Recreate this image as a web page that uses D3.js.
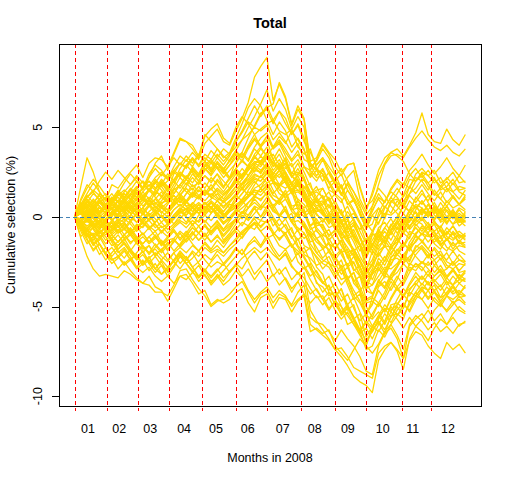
<!DOCTYPE html>
<html>
<head>
<meta charset="utf-8">
<script src="https://cdn.jsdelivr.net/npm/d3@7"></script>
<style>
  html, body { margin: 0; padding: 0; background: #fff; overflow: hidden; }
  svg { display: block; background: #fff; }
</style>
</head>
<body>
<div id="content"></div>
<script>
// trading days in 2008, one value every 4th day (day 1 .. 253)
const dayStep = 4;
const lastDay = 253;
const monthStarts = [1, 22, 42, 62, 83, 105, 125, 147, 169, 189, 212, 231];
const monthLabels = ["01", "02", "03", "04", "05", "06", "07", "08", "09", "10", "11", "12"];
const monthLabelDays = [9.6, 29.8, 49.7, 71.6, 92.2, 112.6, 135.2, 155.8, 177.2, 199.7, 219, 241.8];
const yTicks = [-10, -5, 0, 5];

// cumulative selection (%) paths
const p01 = [0,0.6,1.2,0.8,0.3,0.5,1.1,0.9, 1.4,1.8,2.2,1.6,2.4,2.9,2.6,2.1, 2.8,3.4,3.1,3.6,3.2,4.1,4.5,4.9, 4.2,4.0,4.8,5.5,6.4,7.8,8.4,8.9, 6.5,7.4,6.6,5.1,6.0,5.4,3.0,2.6, 3.2,2.4,1.8,1.2,1.9,1.4,0.6,-0.4, 0.3,1.1,0.8,1.6,2.1,1.8,2.6,3.0, 3.5,2.9,2.4,2.8,3.3,2.7,2.3,2.9];
const p02 = [0,1.7,3.3,2.5,1.4,0.9,1.8,1.6, 2.1,2.5,2.9,2.2,3.0,3.3,3.2,2.8, 3.6,4.4,4.2,4.0,3.4,4.6,4.2,3.8, 3.3,3.6,4.4,5.2,6.1,6.6,6.2,5.4, 4.6,5.3,4.8,3.9,4.4,3.8,2.6,3.2, 4.0,3.5,2.8,2.3,2.9,3.0,1.6,0.5, 1.2,2.3,3.0,3.6,3.4,3.1,2.4,2.0, 2.3,1.7,1.2,1.6,2.0,1.4,1.0,1.5];
const p03 = [0,0.4,0.2,-0.3,-0.6,-0.2,0.3,0.1, 0.6,0.2,0.8,1.1,0.7,1.4,1.2,0.9, 1.6,2.2,1.8,2.4,2.0,2.7,2.4,3.0, 2.6,2.2,3.1,3.6,4.4,5.1,5.8,6.0, 5.2,5.9,5.5,4.6,5.2,4.4,2.8,3.1, 3.8,3.3,2.4,1.6,2.2,2.6,1.0,0.3, 1.4,2.6,3.3,3.6,3.8,3.4,4.0,4.7, 5.8,4.6,4.2,4.1,4.9,4.3,4.0,4.6];
const p04 = [0,-0.5,-0.2,0.4,0.1,-0.3,0.2,0.6, 0.3,0.9,1.4,1.0,1.6,1.3,1.9,1.5, 2.4,3.0,2.7,3.3,2.9,3.5,3.2,3.8, 3.4,3.1,3.7,4.3,5.0,5.6,6.3,7.1, 5.9,6.6,6.0,4.9,5.6,5.0,2.4,2.0, 2.6,1.9,1.2,0.8,1.5,1.0,0.1,-0.6, 0.6,1.8,2.9,3.4,3.5,3.3,3.9,4.4, 4.8,4.3,3.9,3.7,4.0,3.6,3.4,3.8];
const p05 = [0,0.8,0.4,1.0,0.6,0.2,0.9,1.3, 1.9,2.4,2.0,1.5,2.2,3.0,3.4,2.6, 3.5,4.3,4.2,3.8,3.3,4.5,4.9,5.2, 4.4,4.1,5.0,5.6,5.2,4.6,3.9,4.3, 3.2,3.8,3.1,2.4,3.0,2.2,0.8,1.1, 1.6,0.9,0.2,-0.4,0.3,-0.2,-1.1,-1.8, -1.0,0.2,0.9,1.4,1.1,0.6,1.3,2.0, 2.4,1.9,1.3,1.0,1.6,1.1,0.7,1.2];
const p06 = [0,-0.3,0.5,0.2,-0.4,0.1,0.7,0.4, 0.9,1.3,1.7,1.1,1.5,2.0,1.7,1.2, 1.8,2.5,2.1,2.8,2.4,3.1,2.7,3.3, 2.9,3.4,4.2,4.8,5.5,6.2,5.6,6.1, 6.3,7.5,6.7,5.2,6.2,5.5,3.1,3.3, 4.1,3.6,3.2,2.5,2.9,3.0,1.7,0.6, 0.9,1.6,1.2,0.6,0.2,-0.3,0.4,1.0, 1.5,0.8,0.3,0.0,0.6,0.1,-0.3,0.2];
const p07 = [0,-0.8,-1.5,-1.1,-1.8,-2.4,-2.0,-1.6, -1.2,-1.8,-2.3,-1.9,-2.6,-3.1,-2.7,-3.3, -2.8,-2.2,-2.6,-3.0,-3.6,-3.2,-3.8,-3.4, -3.0,-2.6,-2.2,-1.8,-2.5,-3.2,-2.8,-2.4, -3.3,-2.9,-3.5,-4.2,-3.6,-3.1,-5.2,-5.8, -6.3,-6.8,-7.4,-7.8,-8.3,-8.9,-9.2,-9.4, -9.8,-8.0,-7.4,-7.0,-7.5,-8.5,-6.8,-6.1, -6.4,-6.9,-6.2,-5.7,-6.0,-5.4,-5.0,-5.3];
const p08 = [0,-0.4,-1.0,-1.6,-1.2,-0.8,-1.4,-2.0, -1.7,-2.2,-2.8,-2.4,-3.0,-2.6,-3.2,-2.9, -2.4,-1.9,-2.3,-2.8,-3.4,-3.0,-3.6,-3.3, -3.8,-3.5,-3.0,-3.4,-4.1,-4.6,-4.2,-3.9, -4.5,-4.1,-4.4,-5.0,-4.6,-4.3,-6.0,-6.3, -6.6,-6.9,-7.4,-7.3,-7.8,-8.4,-8.6,-8.8, -9.0,-7.6,-7.2,-7.0,-7.4,-7.9,-6.9,-6.4, -6.6,-7.2,-7.6,-7.9,-7.0,-7.4,-7.1,-7.6];
const p09 = [0,-1.1,-0.7,-1.4,-2.1,-1.7,-2.3,-2.9, -2.5,-3.0,-3.4,-3.7,-3.3,-3.9,-4.1,-4.7, -4.0,-3.3,-3.2,-3.7,-4.3,-4.1,-4.9,-4.6, -4.8,-4.6,-4.2,-4.0,-4.8,-5.3,-4.5,-4.3, -5.1,-4.5,-4.6,-5.3,-4.7,-4.4,-6.4,-6.2, -6.5,-6.3,-7.2,-7.6,-8.0,-7.4,-6.8,-7.2, -7.6,-7.1,-6.4,-6.0,-6.6,-7.4,-6.0,-5.5, -5.8,-6.3,-5.9,-6.4,-6.1,-6.5,-6.0,-5.9];
const p10 = [0,-1.2,-2.2,-2.9,-3.3,-3.2,-3.3,-3.4, -3.0,-3.2,-3.5,-3.7,-3.8,-4.2,-4.2,-4.4, -3.8,-3.0,-2.9,-3.5,-4.0,-4.4,-5.0,-4.7, -4.6,-4.3,-3.9,-3.6,-4.2,-4.8,-4.3,-4.1, -4.8,-4.3,-4.5,-4.9,-4.2,-3.8,-5.6,-5.9, -6.0,-6.4,-6.9,-6.3,-6.8,-7.2,-7.8,-8.6, -8.8,-7.2,-6.5,-6.2,-6.8,-7.9,-6.1,-5.7, -5.4,-5.9,-5.2,-4.8,-5.3,-4.9,-4.4,-4.8];
const q01 = [0,0.3,0.1,0.6,0.9,0.4,0.2,0.5, 0.3,0.0,-0.3,0.2,0.6,0.8,0.5,0.4, 0.9,1.1,0.6,0.7,1.2,1.5,1.1,0.9, 1.2,1.6,2.1,1.8,2.3,2.9,2.6,3.0, 2.2,2.6,2.1,1.5,2.0,1.1,0.9,0.5, 0.7,1.0,0.3,-0.3,-0.1,-1.2,-1.6,-2.3, -1.5,-1.1,-1.7,-0.7,-0.6,-0.9,0.1,0.6, 0.2,0.7,0.1,-0.2,0.4,0.0,0.2,-0.1];
const q02 = [0,-0.3,-0.9,-1.3,-0.8,-1.1,-1.6,-1.4, -1.0,-0.7,-1.2,-1.5,-1.1,-0.8,-1.4,-1.9, -1.3,-1.6,-1.0,-0.6,-0.9,-1.3,-0.8,-0.5, -1.3,-0.9,-0.4,0.1,-0.2,0.2,0.6,0.5, 0.7,0.1,-0.1,0.2,-0.8,-1.2,-0.9,-2.0, -2.4,-2.6,-3.2,-2.7,-3.6,-4.4,-4.1,-5.4, -4.9,-3.9,-3.6,-4.1,-3.5,-2.6,-3.0,-2.6, -2.8,-3.3,-2.7,-3.1,-3.4,-2.9,-3.4,-3.6];
const q03 = [0,0.5,1.1,1.4,0.9,0.6,0.8,1.2, 1.3,1.0,1.5,1.2,0.7,1.0,1.4,0.9, 1.3,1.8,2.1,1.7,1.9,2.3,2.0,2.4, 1.7,2.1,2.5,2.2,2.8,3.3,3.1,3.6, 3.0,2.8,3.3,2.4,2.5,2.2,1.3,1.5, 1.6,0.9,1.3,1.0,0.0,0.2,-0.4,-1.4, -0.8,-0.3,0.2,0.1,0.4,0.9,1.3,1.6, 2.1,1.9,2.2,1.5,1.7,2.1,1.5,1.6];
const q04 = [0,0.3,0.1,-0.4,-0.7,-0.2,-0.5,-0.1, -0.3,-0.8,-0.6,-0.2,0.2,-0.1,-0.6,-0.4, -0.1,0.3,0.0,-0.4,-0.2,0.3,0.6,0.2, -0.3,0.0,0.4,0.2,0.8,1.2,0.9,1.4, 1.0,0.7,1.0,0.3,0.0,-0.3,-0.9,-1.4, -1.7,-2.6,-2.8,-2.4,-3.4,-3.1,-3.9,-4.7, -4.5,-3.6,-4.0,-3.3,-2.8,-2.2,-2.5,-1.7, -1.4,-1.8,-2.2,-1.9,-2.5,-2.7,-2.4,-2.5];
const q05 = [0,-0.6,-1.1,-0.9,-1.5,-2.0,-1.7,-2.2, -1.8,-2.4,-2.1,-2.6,-2.2,-2.9,-3.2,-2.8, -2.5,-2.1,-2.6,-2.3,-1.9,-2.4,-2.8,-2.5, -2.7,-2.3,-1.8,-2.1,-1.6,-1.3,-1.7,-1.2, -1.0,-1.6,-1.8,-1.5,-2.5,-2.9,-2.6,-3.7, -3.9,-4.4,-4.2,-5.0,-5.5,-6.0,-6.6,-7.2, -6.1,-6.4,-5.8,-5.0,-5.5,-5.1,-4.2,-4.4, -3.9,-4.1,-3.8,-4.5,-4.3,-3.9,-4.5,-4.4];
const q06 = [0,0.4,0.8,1.3,1.0,0.6,0.9,0.5, 0.9,1.3,1.1,1.7,2.0,1.6,1.9,1.4, 2.0,2.4,2.1,2.6,2.3,2.8,3.1,2.7, 2.5,2.9,3.3,3.6,3.2,3.9,4.4,4.7, 3.9,4.3,3.8,3.2,3.7,2.8,2.6,2.2, 2.3,1.6,2.0,1.7,0.7,0.9,0.3,-0.7, 0.1,0.5,-0.1,0.9,1.0,0.7,1.7,2.2, 2.0,1.5,2.1,1.7,1.4,1.9,1.4,1.2];
const q07 = [0,-0.4,-0.7,-0.3,0.1,-0.2,0.3,0.0, 0.1,0.5,0.2,-0.3,-0.6,-0.4,-0.9,-0.5, -0.1,0.2,0.5,0.1,0.4,0.8,0.5,0.2, 0.3,0.7,0.6,1.0,1.4,1.2,1.6,1.9, 2.1,1.5,1.3,1.6,0.6,0.2,0.5,-0.6, -1.0,-1.2,-1.8,-1.3,-2.2,-3.0,-2.7,-4.0, -3.8,-2.9,-3.3,-2.6,-2.1,-1.5,-1.8,-1.0, -1.4,-0.9,-1.5,-1.8,-1.2,-1.6,-1.4,-1.7];
const q08 = [0,0.3,0.0,-0.4,-0.9,-0.6,-1.0,-0.7, -1.2,-0.9,-0.4,-0.6,-0.1,0.3,0.0,-0.4, 0.1,0.4,0.8,0.5,0.2,0.6,0.3,0.4, 0.0,0.4,0.9,1.3,1.8,2.2,2.0,2.5, 1.9,1.7,2.2,1.3,1.4,1.1,0.2,0.4, 0.2,-0.3,-0.1,-0.9,-1.4,-1.9,-2.5,-3.1, -2.6,-1.6,-1.3,-1.8,-1.2,-0.3,-0.7,-0.3, 0.0,-0.4,-0.8,-0.5,-1.1,-1.3,-1.0,-1.1];
const q09 = [0,-0.5,-0.9,-1.5,-1.3,-0.8,-1.2,-1.8, -1.5,-2.0,-2.4,-2.1,-2.6,-2.2,-2.7,-3.0, -2.4,-2.0,-2.3,-2.8,-2.5,-2.1,-2.4,-1.9, -2.2,-1.8,-1.5,-1.1,-0.7,-0.4,-0.8,-0.5, -0.9,-1.2,-0.9,-1.6,-1.9,-2.2,-2.8,-3.3, -3.7,-3.9,-4.5,-4.0,-4.9,-5.7,-5.4,-6.7, -6.1,-5.6,-5.1,-5.2,-4.9,-4.4,-4.0,-3.7, -4.1,-3.6,-4.2,-4.5,-3.9,-4.3,-4.1,-4.4];
const q10 = [0,0.6,1.1,1.5,1.2,0.7,0.4,0.9, 0.8,1.2,0.9,1.4,1.8,1.5,2.0,1.6, 2.1,2.5,2.2,2.7,2.3,2.9,3.2,2.8, 2.7,3.1,3.6,3.3,4.0,4.6,4.9,5.2, 5.4,4.8,4.6,4.9,3.9,3.5,3.8,2.7, 2.4,1.5,1.3,1.7,0.7,1.0,0.2,-0.6, -0.4,0.5,0.1,0.8,1.3,1.9,1.6,2.4, 2.7,2.3,1.9,2.2,1.6,1.4,1.7,1.6];
const q11 = [0,0.3,-0.1,-0.5,-0.2,-0.7,-0.3,-0.9, -0.7,-0.3,0.2,0.5,0.1,0.4,0.8,0.9, 1.2,0.8,1.3,1.6,1.2,0.9,1.3,1.0, 0.9,1.3,1.7,1.5,2.0,2.4,2.2,2.8, 2.0,2.4,1.9,1.3,1.8,0.9,0.7,0.3, 0.4,-0.3,0.1,-0.2,-1.2,-1.0,-1.6,-2.6, -2.7,-3.0,-2.4,-1.6,-2.1,-1.7,-0.8,-1.0, -0.5,-0.7,-0.4,-1.1,-0.9,-0.5,-1.1,-1.0];
const q12 = [0,0.3,0.0,-0.5,-0.9,-0.6,-0.2,-0.5, -0.3,-0.8,-1.2,-0.9,-1.4,-1.1,-1.6,-1.3, -1.2,-0.8,-1.1,-0.6,-0.9,-0.5,-0.8,-0.4, -0.8,-0.5,-0.1,0.3,0.1,0.6,0.4,0.9, 0.3,0.1,0.6,-0.3,-0.2,-0.5,-1.4,-1.2, -1.0,-0.7,-1.4,-2.0,-1.8,-2.9,-3.3,-4.0, -3.2,-2.8,-3.4,-2.4,-2.3,-2.6,-1.6,-1.1, -1.3,-1.8,-1.2,-1.6,-1.9,-1.4,-1.9,-2.1];
const q13 = [0,0.5,0.9,0.6,0.2,0.5,0.1,0.4, 0.8,0.6,0.2,0.5,0.9,0.7,1.1,0.8, 1.0,1.3,0.9,1.4,1.1,0.7,1.0,1.3, 0.8,1.1,1.5,1.9,2.3,2.7,2.5,2.9, 2.5,2.2,2.5,1.8,1.5,1.2,0.6,0.1, -0.1,-0.6,-0.4,-1.2,-1.7,-2.2,-2.8,-3.4, -3.2,-2.3,-2.7,-2.0,-1.5,-0.9,-1.2,-0.4, -0.8,-0.3,-0.9,-1.2,-0.6,-1.0,-0.8,-1.1];
const q14 = [0,-0.4,-0.8,-0.6,-1.1,-0.8,-1.3,-1.6, -1.3,-1.0,-1.5,-1.8,-1.6,-2.1,-1.8,-1.5, -1.3,-1.6,-1.2,-0.9,-1.3,-1.0,-1.4,-1.1, -1.4,-1.0,-0.7,-0.3,-0.5,0.0,-0.2,0.3, -0.5,-0.1,-0.6,-1.2,-0.7,-1.6,-1.8,-2.2, -2.6,-2.8,-3.4,-2.9,-3.8,-4.6,-4.3,-5.6, -4.5,-4.8,-4.2,-3.4,-3.9,-3.5,-2.6,-2.8, -2.5,-2.9,-3.3,-3.0,-3.6,-3.8,-3.5,-3.6];
const q15 = [0,0.6,0.3,0.1,0.5,0.2,-0.2,0.2, 0.6,0.9,0.6,1.0,0.7,0.3,0.6,0.2, 0.6,1.0,0.8,1.2,1.0,1.4,1.1,1.5, 1.2,1.5,1.9,2.3,2.6,3.0,2.8,3.3, 3.5,2.9,2.7,3.0,2.0,1.6,1.9,0.8, 0.9,0.2,0.6,0.3,-0.7,-0.5,-1.1,-2.1, -1.6,-0.6,-0.3,-0.8,-0.2,0.7,0.3,0.7, 0.5,0.0,0.6,0.2,-0.1,0.4,-0.1,-0.3];
const q16 = [0,-0.4,-0.2,0.2,-0.1,-0.5,-0.8,-0.4, -0.1,-0.4,-0.8,-0.5,-0.1,0.3,0.0,-0.3, 0.0,0.3,0.1,0.5,0.2,0.5,0.8,0.4, 0.1,0.4,0.7,0.9,1.2,1.5,1.4,1.8, 1.2,1.0,1.5,0.6,0.7,0.4,-0.5,-0.3, -0.6,-1.5,-1.7,-1.3,-2.3,-2.0,-2.8,-3.6, -3.8,-3.3,-2.8,-2.9,-2.6,-2.1,-1.7,-1.4, -0.9,-1.1,-0.8,-1.5,-1.3,-0.9,-1.5,-1.4];
const q17 = [0,0.3,0.7,0.4,0.0,0.3,0.8,1.1, 0.7,1.0,0.7,1.2,1.5,1.1,0.7,0.4, 0.8,1.1,0.9,1.3,1.1,1.5,1.2,1.6, 1.3,1.6,2.0,2.4,2.7,3.1,3.0,3.4, 3.0,2.7,3.0,2.3,2.0,1.7,1.1,0.6, 0.8,1.1,0.4,-0.2,0.0,-1.1,-1.5,-2.2, -1.0,-0.9,0.0,0.9,0.6,1.2,2.1,2.0, 2.5,2.3,2.6,1.9,2.1,2.5,1.9,2.0];
const q18 = [0,-0.7,-1.3,-1.8,-1.5,-2.1,-2.4,-2.2, -2.7,-2.4,-2.9,-2.6,-2.3,-2.0,-2.4,-2.8, -2.4,-2.1,-2.4,-1.9,-2.2,-1.7,-2.0,-1.8, -2.0,-1.6,-1.3,-0.9,-0.6,-0.3,-0.5,-0.2, -1.0,-0.6,-1.1,-1.7,-1.2,-2.1,-2.3,-2.7, -2.5,-2.2,-2.9,-3.5,-3.3,-4.4,-4.8,-5.5, -5.7,-5.3,-5.9,-4.9,-4.8,-5.1,-4.1,-3.6, -3.3,-3.7,-4.1,-3.8,-4.4,-4.6,-4.3,-4.4];
const q19 = [0,0.2,0.6,0.9,0.6,0.2,-0.2,0.1, 0.5,0.2,-0.3,-0.1,-0.5,-0.8,-0.5,-0.9, -0.5,-0.2,-0.4,0.0,-0.3,0.1,-0.2,0.2, -0.1,0.3,0.5,0.8,1.1,1.4,1.2,1.6, 1.0,0.8,1.3,0.4,0.5,0.2,-0.7,-0.5, -0.4,-1.1,-0.7,-1.0,-2.0,-1.8,-2.4,-3.4, -2.9,-1.9,-1.6,-2.1,-1.5,-0.6,-1.0,-0.6, -1.0,-0.5,-1.1,-1.4,-0.8,-1.2,-1.0,-1.3];
const q20 = [0,-0.3,-0.7,-1.0,-0.7,-0.3,-0.6,-0.2, 0.1,-0.2,0.2,-0.1,0.3,0.6,0.3,0.0, 0.4,0.7,0.4,0.8,0.5,0.8,0.5,0.9, 0.5,0.9,1.3,1.8,2.1,2.6,2.5,3.0, 2.2,2.6,2.1,1.5,2.0,1.1,0.9,0.5, 0.3,-0.2,0.0,-0.8,-1.3,-1.8,-2.4,-3.0, -1.9,-2.2,-1.6,-0.8,-1.3,-0.9,0.0,-0.2, -0.4,-0.9,-0.3,-0.7,-1.0,-0.5,-1.0,-1.2];
const q21 = [0,-0.3,-0.7,-1.1,-0.8,-1.3,-1.0,-1.4, -1.0,-1.4,-1.2,-1.7,-2.0,-1.8,-2.2,-2.5, -2.0,-1.7,-2.0,-1.6,-1.9,-1.5,-1.9,-1.6, -2.0,-1.6,-1.2,-0.8,-0.5,-0.7,-0.2,-0.3, -0.1,-0.7,-0.9,-0.6,-1.6,-2.0,-1.7,-2.8, -3.2,-4.2,-4.4,-4.0,-5.2,-4.9,-6.0,-7.1, -6.3,-5.9,-6.5,-5.5,-5.4,-5.7,-4.7,-4.2, -4.6,-4.1,-4.7,-5.0,-4.4,-4.8,-4.6,-4.9];
const q22 = [0,0.4,0.1,0.4,0.8,0.5,0.8,0.4, -0.2,0.1,0.5,0.3,0.7,0.4,0.0,0.3, 0.9,0.6,0.9,0.5,0.8,0.5,0.9,0.6, 0.1,0.5,0.9,1.3,1.7,2.1,2.0,2.4, 2.0,1.7,2.0,1.3,1.0,0.7,0.1,-0.4, -0.2,0.1,-0.6,-1.2,-1.0,-2.1,-2.5,-3.2, -2.6,-2.1,-1.6,-1.7,-1.4,-0.9,-0.5,-0.2, 0.3,0.1,0.4,-0.3,-0.1,0.3,-0.3,-0.2];
const q23 = [0,-0.4,-0.1,-0.5,-0.2,0.2,-0.1,-0.6, -0.3,0.1,0.5,0.2,-0.2,0.1,0.5,0.2, 0.7,0.9,0.6,0.3,0.7,0.4,0.8,0.5, 0.0,0.3,0.6,0.9,1.2,1.5,1.4,1.7, 1.9,1.3,1.1,1.4,0.4,0.0,0.3,-0.8, -1.1,-2.0,-2.2,-1.8,-2.8,-2.5,-3.3,-4.1, -4.3,-3.8,-3.3,-3.4,-3.1,-2.6,-2.2,-1.9, -1.6,-2.0,-2.4,-2.1,-2.7,-2.9,-2.6,-2.7];
const q24 = [0,0.4,0.8,0.6,1.0,1.3,0.9,0.6, 1.0,0.7,0.3,0.5,0.1,-0.3,0.1,-0.3, 0.1,0.5,0.3,0.7,0.4,0.8,0.5,0.9, 0.6,0.9,1.2,1.6,1.9,2.3,2.2,2.6, 2.0,1.8,2.3,1.4,1.5,1.2,0.3,0.5, 0.1,-0.1,-0.7,-0.2,-1.1,-1.9,-1.6,-2.9, -2.4,-1.4,-1.1,-1.6,-1.0,-0.1,-0.5,-0.1, 0.4,0.2,0.5,-0.2,0.0,0.4,-0.2,-0.1];
const q25 = [0,0.3,0.7,0.5,0.8,1.1,0.8,1.2, 1.5,1.2,1.6,2.0,1.7,2.2,2.5,2.2, 2.6,3.0,2.8,3.2,2.9,3.3,3.0,3.5, 3.1,3.5,3.9,4.3,4.6,5.0,4.8,5.1, 4.3,4.7,4.2,3.6,4.1,3.2,3.0,2.6, 2.4,1.9,2.1,1.3,0.8,0.3,-0.3,-0.9, -1.7,-0.8,-1.2,-0.5,0.0,0.6,0.3,1.1, 0.7,1.2,0.6,0.3,0.9,0.5,0.7,0.4];
const q26 = [0,-0.6,-1.1,-1.0,-1.5,-2.0,-2.4,-2.2, -2.6,-2.3,-2.8,-3.1,-2.8,-3.3,-3.6,-3.3, -3.7,-3.3,-3.5,-3.1,-3.4,-3.0,-3.3,-2.9, -3.4,-3.0,-2.7,-2.3,-2.0,-1.7,-2.0,-1.7, -2.1,-2.4,-2.1,-2.8,-3.1,-3.4,-4.0,-4.5, -4.4,-5.1,-4.7,-5.0,-6.0,-5.8,-6.4,-7.4, -7.2,-6.3,-6.7,-6.0,-5.5,-4.9,-5.2,-4.4, -4.6,-5.1,-4.5,-4.9,-5.2,-4.7,-5.2,-5.4];
const q27 = [0,0.2,-0.2,-0.6,-0.3,0.1,0.5,0.3, 0.7,0.4,0.0,-0.4,-0.2,-0.6,-0.3,-0.7, -0.4,-0.1,0.3,0.1,0.5,0.2,0.5,0.1, -0.4,-0.1,0.3,0.7,1.1,1.6,1.8,2.2, 2.4,1.8,1.6,1.9,0.9,0.5,0.8,-0.3, -0.5,-1.0,-0.8,-1.6,-2.1,-2.6,-3.2,-3.8, -3.0,-2.6,-3.2,-2.2,-2.1,-2.4,-1.4,-0.9, -0.6,-1.0,-1.4,-1.1,-1.7,-1.9,-1.6,-1.7];
const q28 = [0,-0.3,0.1,0.6,0.3,0.7,0.4,0.0, 0.3,0.6,0.4,0.8,1.1,0.8,0.5,0.8, 1.5,1.8,1.4,1.1,1.5,1.2,1.6,1.1, 0.8,1.2,1.7,2.1,2.6,3.0,3.1,3.5, 2.9,2.7,3.2,2.3,2.4,2.1,1.2,1.4, 1.1,0.2,0.0,0.4,-0.6,-0.3,-1.1,-1.9, -1.5,-1.8,-1.2,-0.4,-0.9,-0.5,0.4,0.2, -0.2,0.3,-0.3,-0.6,0.0,-0.4,-0.2,-0.5];
const q29 = [0,-0.2,-0.5,-0.3,-0.7,-1.0,-0.7,-0.3, -0.7,-1.0,-0.7,-0.3,-0.6,-0.3,0.1,-0.2, 0.4,0.7,0.4,0.0,0.4,0.1,0.5,0.0, -0.4,-0.1,0.2,0.5,0.8,1.1,1.0,1.3, 0.5,0.9,0.4,-0.2,0.3,-0.6,-0.8,-1.2, -1.6,-1.8,-2.4,-1.9,-2.8,-3.6,-3.3,-4.6, -4.4,-3.5,-3.9,-3.2,-2.7,-2.1,-2.4,-1.6, -1.8,-2.3,-1.7,-2.1,-2.4,-1.9,-2.4,-2.6];
const q30 = [0,0.2,-0.2,0.0,-0.4,-0.8,-0.5,-0.9, -0.6,-1.0,-1.4,-1.1,-1.5,-1.2,-0.8,-1.1, -0.6,-0.3,-0.6,-0.2,-0.5,-0.2,-0.6,-0.3, -0.7,-0.4,-0.1,0.2,0.5,0.8,0.5,0.8, 0.4,0.1,0.4,-0.3,-0.6,-0.9,-1.5,-2.0, -1.8,-1.5,-2.2,-2.8,-2.6,-3.7,-4.1,-4.8, -4.7,-5.0,-4.4,-3.6,-4.1,-3.7,-2.8,-3.0, -2.5,-2.7,-2.4,-3.1,-2.9,-2.5,-3.1,-3.0];
const r01 = [0,0.5,0.2,0.8,1.2,0.7,1.0,1.5, 1.1,1.6,1.3,0.9,1.5,2.1,1.7,2.0, 2.5,2.2,2.9,3.3,2.8,3.1,3.7,3.3, 3.8,3.5,4.2,4.7,5.3,5.0,5.7,6.2, 5.4,5.9,5.2,4.6,5.1,4.2,3.6,2.9, 3.3,2.6,2.0,2.4,1.5,0.9,0.3,-0.6, 0.1,-0.4,0.5,1.1,0.6,0.2,0.9,0.5, 0.9,0.3,-0.2,0.4,-0.3,0.1,-0.5,-0.2];
const r02 = [0,-0.3,-0.8,-0.4,-1.0,-1.5,-1.2,-1.9, -2.3,-1.8,-2.2,-2.7,-2.4,-2.9,-2.5,-3.1, -2.7,-2.2,-2.6,-3.1,-2.7,-3.3,-3.7,-3.2, -3.6,-3.1,-2.6,-2.9,-2.3,-1.9,-2.4,-2.0, -2.6,-3.2,-2.8,-3.5,-3.1,-3.7,-4.3,-4.0, -4.6,-5.2,-4.7,-5.5,-5.1,-5.8,-6.5,-6.2, -6.8,-6.0,-5.4,-5.9,-5.2,-4.8,-5.3,-4.6, -4.1,-4.6,-4.2,-4.8,-4.4,-3.9,-4.3,-3.8];
const r03 = [0,0.3,0.9,0.6,0.2,0.7,1.1,0.8, 1.3,1.0,1.6,2.0,1.5,1.9,2.4,2.1, 2.6,2.3,2.9,2.5,2.0,2.6,3.0,2.7, 2.2,2.6,3.0,3.5,3.1,3.8,3.4,3.9, 3.2,2.6,3.0,2.3,1.8,2.1,1.4,0.8, 1.2,0.5,0.9,0.2,-0.5,-0.1,-0.8,-1.5, -0.9,-1.3,-0.6,-0.1,-0.7,-0.3,0.3,-0.1, 0.4,0.0,0.5,0.1,-0.4,0.2,-0.2,0.3];
const r04 = [0,-0.2,0.3,-0.1,-0.6,-0.2,-0.7,-0.3, 0.2,-0.2,-0.7,-0.3,0.1,-0.4,-0.8,-0.5, -0.1,0.4,0.0,-0.5,0.1,0.6,0.2,0.7, 0.3,0.8,1.2,0.9,1.5,2.0,1.6,2.2, 1.5,0.9,1.3,0.5,0.0,0.4,-0.5,-1.2, -1.8,-1.4,-2.3,-2.9,-3.5,-3.1,-4.2,-5.0, -5.6,-4.8,-5.3,-4.5,-3.9,-4.4,-3.7,-3.1, -3.5,-3.0,-3.6,-3.2,-3.8,-3.3,-3.7,-3.4];
const r05 = [0,0.6,1.0,0.7,1.3,1.0,0.5,0.9, 0.4,0.8,1.3,0.9,1.5,1.2,1.8,2.4, 2.0,2.7,3.2,2.8,3.5,3.1,2.6,3.0, 2.5,2.1,2.7,3.1,2.8,3.4,2.9,3.3, 2.6,3.0,2.4,1.7,2.1,1.4,0.6,1.0, 0.3,0.7,-0.1,-0.6,-0.2,-0.9,-1.6,-1.2, -1.9,-1.1,-0.6,-1.0,-0.4,0.2,-0.3,0.4, 0.9,0.4,0.8,0.2,0.6,0.0,0.5,0.3];
const r06 = [0,-0.4,-0.1,-0.7,-1.2,-0.8,-1.4,-1.0, -1.5,-1.9,-1.4,-2.0,-1.6,-2.2,-1.8,-2.4, -2.0,-2.6,-2.2,-2.8,-3.3,-2.9,-3.4,-3.0, -2.6,-3.1,-2.7,-3.3,-2.9,-3.5,-3.0,-3.6, -3.2,-3.8,-3.4,-4.0,-3.6,-4.3,-4.8,-4.4, -4.9,-4.5,-5.2,-5.7,-5.3,-6.0,-6.4,-5.9, -6.4,-5.7,-5.1,-5.6,-4.9,-4.3,-4.8,-4.2, -3.7,-4.1,-3.5,-3.9,-3.4,-3.8,-3.2,-3.5];
const r07 = [0,0.2,-0.3,0.1,0.6,0.2,0.7,0.3, -0.1,0.4,0.0,0.5,1.0,0.6,0.2,0.7, 1.2,0.8,1.3,1.8,1.4,1.9,1.5,2.0, 1.6,2.2,2.7,2.3,2.9,3.4,3.0,3.6, 3.0,3.5,2.8,2.2,2.7,2.0,1.3,1.7, 1.0,1.4,0.7,0.1,0.6,-0.2,-0.7,-0.3, -0.8,0.0,0.6,0.2,0.9,0.5,1.2,0.8, 1.3,0.9,1.5,1.0,0.6,1.1,0.7,1.0];
const r08 = [0,-0.6,-1.2,-1.9,-1.5,-2.1,-2.6,-2.3, -1.9,-2.4,-2.0,-1.6,-2.1,-1.7,-1.3,-1.8, -1.4,-0.9,-1.4,-1.0,-0.5,-1.1,-0.6,-0.2, -0.7,-0.2,0.3,-0.1,0.5,1.0,0.6,1.1, 0.5,0.0,0.4,-0.3,-0.8,-0.4,-1.1,-1.7, -2.3,-1.9,-2.6,-3.2,-2.8,-3.5,-4.1,-3.7, -4.3,-3.6,-3.0,-3.5,-2.8,-2.2,-2.7,-2.1, -1.7,-2.2,-1.8,-2.4,-2.0,-2.6,-2.1,-2.5];
const r09 = [0,0.4,0.0,0.5,0.1,-0.3,0.2,0.6, 0.2,0.7,1.1,0.6,1.0,0.5,0.9,1.3, 0.9,1.4,1.9,1.5,2.0,1.6,2.2,1.8, 1.4,1.9,2.4,2.1,2.8,3.3,3.8,3.4, 3.9,4.5,4.1,4.8,4.3,3.7,2.9,2.3, 2.7,2.0,1.4,1.8,1.0,0.4,-0.3,-1.0, -1.6,-0.9,-1.4,-0.7,-0.2,-0.7,0.0,-0.5, -0.1,-0.6,-0.2,-0.8,-1.3,-0.9,-1.4,-1.0];
const r10 = [0,-0.2,-0.6,-0.3,0.1,-0.4,-0.9,-0.5, -1.0,-0.6,-1.1,-1.5,-1.1,-1.6,-2.0,-1.6, -1.2,-1.7,-1.3,-0.8,-1.3,-0.9,-1.4,-1.0, -1.5,-1.1,-0.6,-1.0,-0.5,-0.1,-0.6,-0.2, -0.8,-1.3,-0.9,-1.6,-2.1,-1.7,-2.5,-3.1, -3.7,-3.3,-4.1,-4.7,-4.3,-5.1,-5.8,-5.4, -6.1,-5.5,-6.0,-5.3,-5.7,-6.2,-5.6,-6.1, -5.7,-5.2,-5.8,-5.4,-6.0,-5.6,-6.1,-5.8];
const r11 = [0,0.9,1.6,2.1,1.7,1.2,0.8,1.3, 0.9,0.4,0.8,0.3,-0.2,0.2,-0.3,0.1, -0.4,0.1,-0.3,0.2,0.7,0.3,0.8,0.4, 0.9,0.5,1.1,1.6,1.2,1.8,2.3,1.9, 1.3,1.7,1.0,0.4,0.9,0.2,-0.5,-0.1, -0.7,-1.3,-0.9,-1.6,-2.2,-1.8,-2.5,-3.2, -2.7,-2.0,-2.5,-1.8,-1.2,-1.7,-1.1,-0.6, -1.0,-0.5,-1.1,-0.7,-1.3,-0.8,-1.2,-0.9];
const r12 = [0,-0.5,-0.2,0.3,-0.1,-0.6,-0.3,-0.8, -0.4,-0.9,-1.3,-0.9,-1.4,-1.0,-1.5,-1.1, -0.7,-1.2,-0.8,-1.3,-0.9,-0.4,-0.9,-0.5, -1.0,-0.6,-0.1,-0.5,0.1,0.5,0.0,0.4, -0.2,-0.8,-0.4,-1.1,-1.7,-2.3,-2.9,-3.6, -4.2,-3.8,-4.6,-5.3,-4.9,-5.6,-6.3,-6.9, -6.4,-5.8,-6.3,-5.6,-5.0,-5.5,-4.9,-4.4, -4.0,-4.5,-4.1,-4.7,-4.2,-3.8,-4.3,-3.9];
const s01 = [0,0.7,1.3,1.9,1.4,0.9,1.3,0.8, 0.4,0.9,0.5,0.1,0.6,1.0,0.6,0.2, 0.7,1.2,0.8,1.3,1.7,1.2,1.6,2.1, 1.7,2.2,2.6,2.2,2.9,2.5,3.1,2.7, 2.1,2.6,1.9,1.4,1.9,1.2,0.5,0.9, 0.2,-0.4,0.1,-0.6,-1.1,-0.7,-1.5,-2.2, -1.6,-1.0,-1.5,-0.8,-0.3,-0.8,-0.2,0.3, -0.2,0.4,-0.1,0.5,0.0,-0.4,0.1,-0.3];
const s02 = [0,-0.4,-0.9,-1.5,-1.1,-1.7,-2.2,-1.8, -1.4,-1.9,-2.3,-1.9,-2.5,-2.9,-2.4,-2.0, -2.5,-2.9,-2.4,-2.0,-2.6,-3.0,-2.5,-2.1, -2.6,-2.2,-1.7,-2.1,-1.5,-1.1,-1.6,-1.0, -1.7,-2.2,-1.8,-2.5,-2.0,-2.7,-3.3,-3.0, -3.6,-4.1,-3.7,-4.4,-4.9,-4.5,-5.3,-6.0, -5.4,-4.8,-5.3,-4.6,-4.0,-4.5,-3.8,-3.3, -3.8,-3.2,-3.7,-4.1,-3.6,-4.2,-3.7,-4.0];
const s03 = [0,0.2,0.6,0.3,0.8,0.4,0.9,1.4, 1.0,1.5,1.1,1.6,2.0,1.6,2.1,1.7, 1.3,1.8,2.3,1.9,2.4,2.9,2.5,3.0, 2.6,3.2,3.7,3.3,3.9,4.4,4.0,4.5, 3.8,4.2,3.6,3.1,3.5,2.8,2.2,2.6, 2.0,2.5,1.9,1.3,1.8,1.1,0.5,-0.2, 0.4,1.0,0.5,1.1,1.6,1.1,1.7,1.3, 1.8,1.3,0.9,1.4,0.8,1.2,0.7,1.1];
const s04 = [0,-0.1,0.4,0.0,-0.5,-0.1,0.3,-0.2, -0.6,-0.2,0.2,-0.3,-0.7,-0.3,0.1,-0.4, 0.1,0.5,0.1,0.6,0.2,-0.3,0.2,0.6, 0.2,-0.2,0.4,0.9,0.5,1.1,1.6,1.2, 0.6,1.0,0.3,-0.3,0.2,-0.5,-1.1,-0.7, -1.3,-1.9,-1.4,-2.1,-2.7,-2.2,-3.0,-3.7, -3.1,-2.5,-3.0,-2.3,-1.8,-2.3,-1.7,-2.2, -2.6,-2.1,-2.7,-2.3,-2.9,-2.5,-3.0,-2.6];
const s05 = [0,0.4,0.9,0.5,0.1,0.5,0.0,0.5, 0.9,0.5,1.0,1.4,1.0,1.5,1.1,1.6, 2.0,1.6,2.1,2.6,2.2,2.7,2.3,2.8, 2.4,2.9,3.5,3.1,3.8,4.3,3.9,4.5, 3.8,4.1,3.4,2.8,3.2,2.5,1.7,1.1, 0.6,0.0,0.5,-0.2,-0.8,-1.4,-2.2,-2.8, -3.5,-2.7,-2.2,-2.7,-1.9,-1.4,-1.9,-1.3, -0.9,-1.4,-1.0,-1.6,-1.2,-1.8,-1.3,-1.6];
const s06 = [0,-0.3,0.1,-0.4,-0.9,-0.5,-1.0,-1.4, -1.0,-1.5,-1.1,-1.6,-2.0,-1.5,-1.9,-1.4, -1.9,-1.5,-1.0,-1.5,-1.9,-1.4,-1.8,-1.3, -1.7,-1.2,-0.8,-1.2,-0.7,-0.3,-0.8,-1.3, -1.9,-2.4,-2.0,-2.7,-3.2,-2.8,-3.5,-4.1, -4.6,-4.2,-4.9,-5.4,-5.0,-5.7,-6.3,-5.8, -6.2,-5.5,-4.9,-5.3,-4.6,-4.0,-4.4,-3.8, -3.3,-3.8,-3.3,-2.9,-3.4,-3.0,-3.5,-3.1];
const s07 = [0,0.3,-0.1,0.4,0.9,0.5,1.0,0.6, 1.1,1.5,2.0,1.6,2.2,2.7,2.3,2.8, 3.3,2.9,3.4,3.0,3.5,3.1,2.6,3.1, 2.7,2.2,2.7,3.2,2.8,3.5,3.9,3.4, 2.8,3.2,2.5,1.9,2.3,1.5,0.8,0.2, -0.3,0.2,-0.4,-1.0,-0.5,-1.2,-1.9,-1.5, -2.1,-1.3,-0.8,-1.3,-0.6,-0.1,-0.6,0.0, 0.5,0.0,0.6,0.2,-0.3,0.2,-0.3,0.1];
const s08 = [0,-0.5,-1.0,-0.6,-0.2,-0.7,-1.2,-0.8, -0.4,-0.9,-0.5,-1.0,-0.6,-1.1,-1.6,-1.2, -0.8,-1.3,-0.9,-0.4,-0.9,-0.5,-1.0,-0.6, -1.1,-0.7,-0.2,0.3,-0.1,0.5,0.0,0.6, 0.0,-0.5,-0.1,-0.8,-1.3,-0.9,-1.7,-2.3, -2.9,-2.5,-3.2,-3.8,-3.4,-4.1,-4.7,-5.4, -4.8,-4.1,-4.6,-3.9,-3.3,-3.8,-3.1,-2.6, -3.0,-2.5,-3.1,-2.7,-3.3,-2.9,-3.4,-3.0];
const s09 = [0,1.0,1.8,1.4,2.0,2.5,2.1,2.6, 2.2,1.8,2.3,1.9,1.4,1.9,1.5,1.1, 1.6,1.2,1.7,2.2,1.8,2.3,1.9,2.4, 2.0,1.6,2.2,2.7,2.3,2.9,3.4,3.0, 2.4,2.8,2.1,1.5,2.0,1.3,0.6,1.0, 0.4,-0.2,0.3,-0.4,-0.9,-0.4,-1.2,-1.9, -1.3,-0.7,-1.2,-0.5,0.0,-0.5,0.1,0.6, 0.1,0.7,0.2,0.8,0.3,-0.1,0.4,0.0];
const s10 = [0,0.2,0.6,0.2,-0.3,0.1,0.5,0.1, 0.5,0.9,0.5,1.0,0.6,0.2,0.7,1.1, 0.7,1.2,1.6,1.2,1.7,1.3,1.8,1.4, 1.0,1.5,2.0,1.6,2.3,2.8,2.4,3.0, 2.4,2.9,2.3,1.8,2.4,2.8,2.3,2.9, 3.3,2.8,2.3,2.7,2.0,1.4,0.8,0.1, 0.6,1.3,0.8,1.5,2.0,1.6,2.3,2.7, 2.2,2.6,2.1,1.7,2.2,1.8,2.3,1.9];

const paths = [p01, p02, p03, p04, p05, p06, p07, p08, p09, p10,
               q01, q02, q03, q04, q05, q06, q07, q08, q09, q10, q11, q12, q13, q14, q15,
               q16, q17, q18, q19, q20, q21, q22, q23, q24, q25, q26, q27, q28, q29, q30,
               r01, r02, r03, r04, r05, r06, r07, r08, r09, r10, r11, r12,
               s01, s02, s03, s04, s05, s06, s07, s08, s09, s10];

const W = 512;
const H = 480;
const margin = { left: 59, top: 44, right: 31, bottom: 74 };
const innerWidth = W - margin.left - margin.right;   // 422
const innerHeight = H - margin.top - margin.bottom;  // 362
const font = "Liberation Sans, Arial, sans-serif";

// R style 4% padding on both axes
const xPad = (lastDay - 1) * 0.04;
const x = d3.scaleLinear()
  .domain([1 - xPad, lastDay + xPad])
  .range([0, innerWidth]);

const yMin = d3.min(paths, p => d3.min(p));
const yMax = d3.max(paths, p => d3.max(p));
const yPad = (yMax - yMin) * 0.04;
const y = d3.scaleLinear()
  .domain([yMin - yPad, yMax + yPad])
  .range([innerHeight, 0]);

const crisp = v => Math.round(v) + 0.5;

let svg = d3.select("#content")
  .append("svg")
  .attr("width", W)
  .attr("height", H)
  .attr("font-family", font);

const g = svg.append("g")
  .attr("transform", `translate(${margin.left},${margin.top})`);

const line = d3.line()
  .x((d, i) => x(1 + i * dayStep))
  .y(d => y(d));

g.selectAll("path.sel")
  .data(paths)
  .enter().append("path")
  .attr("class", "sel")
  .attr("d", line)
  .attr("fill", "none")
  .attr("stroke", "#FFD700")
  .attr("stroke-width", 1.3)
  .attr("stroke-linejoin", "round");

// zero reference line
g.append("line")
  .attr("x1", 0).attr("x2", innerWidth)
  .attr("y1", crisp(y(0))).attr("y2", crisp(y(0)))
  .attr("stroke", "#4682B4")
  .attr("stroke-dasharray", "4,3");

// month boundaries
g.selectAll("line.month")
  .data(monthStarts)
  .enter().append("line")
  .attr("class", "month")
  .attr("x1", d => crisp(x(d))).attr("x2", d => crisp(x(d)))
  .attr("y1", 0).attr("y2", innerHeight + 5)
  .attr("stroke", "#FF0000")
  .attr("stroke-dasharray", "4,3");

// box
g.append("rect")
  .attr("x", 0.5).attr("y", 0.5)
  .attr("width", innerWidth)
  .attr("height", innerHeight)
  .attr("fill", "none")
  .attr("stroke", "black")
  .attr("stroke-width", 1);

// y axis: ticks and labels read bottom to top, as in R
const ya = g.append("g");
ya.selectAll("line.ytick")
  .data(yTicks)
  .enter().append("line")
  .attr("class", "ytick")
  .attr("x1", -7).attr("x2", 0.5)
  .attr("y1", d => crisp(y(d))).attr("y2", d => crisp(y(d)))
  .attr("stroke", "black");
ya.selectAll("text.ytick")
  .data(yTicks)
  .enter().append("text")
  .attr("class", "ytick")
  .attr("transform", d => `translate(-17,${y(d)}) rotate(-90)`)
  .attr("text-anchor", "middle")
  .attr("font-size", "12.5px")
  .text(d => String(d));

// x axis month labels
g.selectAll("text.month")
  .data(monthLabels)
  .enter().append("text")
  .attr("class", "month")
  .attr("x", (d, i) => x(monthLabelDays[i]))
  .attr("y", innerHeight + 27)
  .attr("text-anchor", "middle")
  .attr("font-size", "12.5px")
  .text(d => d);

svg.append("text")
  .attr("x", margin.left + innerWidth / 2)
  .attr("y", 28)
  .attr("text-anchor", "middle")
  .attr("font-size", "14.5px")
  .attr("font-weight", "bold")
  .text("Total");

svg.append("text")
  .attr("x", margin.left + innerWidth / 2)
  .attr("y", 462)
  .attr("text-anchor", "middle")
  .attr("font-size", "12.5px")
  .text("Months in 2008");

svg.append("text")
  .attr("transform", `translate(15,${margin.top + innerHeight / 2}) rotate(-90)`)
  .attr("text-anchor", "middle")
  .attr("font-size", "12.5px")
  .text("Cumulative selection (%)");
</script>
</body>
</html>
